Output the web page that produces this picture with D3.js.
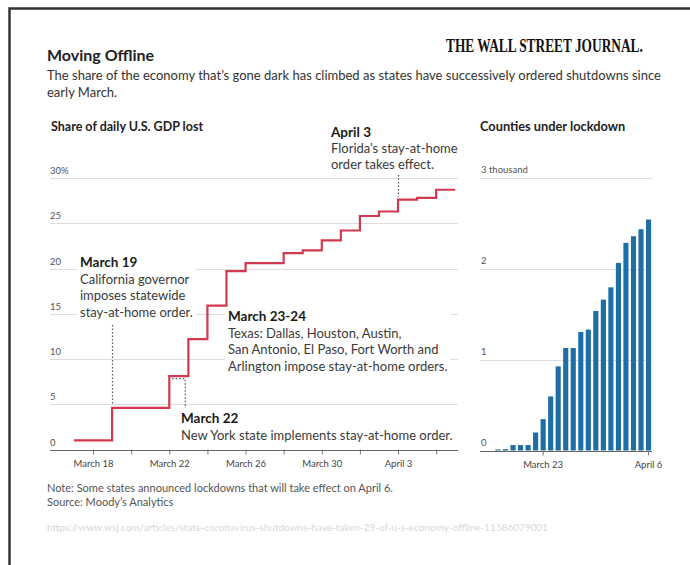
<!DOCTYPE html>
<html>
<head>
<meta charset="utf-8">
<script src="https://cdn.jsdelivr.net/npm/d3@7"></script>
<style>
  html, body { margin: 0; padding: 0; background: #fff; }
  svg { display: block; font-family: Lato, "Open Sans", sans-serif; }
</style>
</head>
<body>
<svg id="chart" width="690" height="565"></svg>
<script>
// Share of daily U.S. GDP lost (percent), one value per day
const gdpDates = ["2020-03-17","2020-03-18","2020-03-19","2020-03-20","2020-03-21","2020-03-22",
  "2020-03-23","2020-03-24","2020-03-25","2020-03-26","2020-03-27","2020-03-28","2020-03-29",
  "2020-03-30","2020-03-31","2020-04-01","2020-04-02","2020-04-03","2020-04-04","2020-04-05","2020-04-06"];
const gdpShare = [1.0,1.0,4.6,4.6,4.6,8.1,12.2,15.9,19.7,20.6,20.6,21.7,22.0,23.1,24.2,25.8,26.3,27.6,27.8,28.7,28.7];
const gdpTicks = [0,5,10,15,20,25,30];
const gdpTickLabels = ["0","5","10","15","20","25","30%"];
const gdpAxisDates = ["2020-03-18","2020-03-22","2020-03-26","2020-03-30","2020-04-03"];
const gdpAxisLabels = ["March 18","March 22","March 26","March 30","April 3"];

// Counties under lockdown, one bar per day
const countyDates = ["2020-03-17","2020-03-18","2020-03-19","2020-03-20","2020-03-21","2020-03-22",
  "2020-03-23","2020-03-24","2020-03-25","2020-03-26","2020-03-27","2020-03-28","2020-03-29",
  "2020-03-30","2020-03-31","2020-04-01","2020-04-02","2020-04-03","2020-04-04","2020-04-05","2020-04-06"];
const countyCounts = [12,15,60,60,60,198,345,595,926,1128,1128,1305,1331,1536,1661,1796,2065,2286,2359,2436,2543];
const countyTicks = [0,1000,2000,3000];
const countyTickLabels = ["0","1","2","3 thousand"];
const countyAxisDates = ["2020-03-23","2020-04-06"];
const countyAxisLabels = ["March 23","April 6"];

// Annotation texts
const noteMarch19 = ["March 19","California governor","imposes statewide","stay-at-home order."];
const noteMarch2324 = ["March 23-24","Texas: Dallas, Houston, Austin,","San Antonio, El Paso, Fort Worth and","Arlington impose stay-at-home orders."];
const noteMarch22 = ["March 22","New York state implements stay-at-home order."];
const noteApril3 = ["April 3","Florida\u2019s stay-at-home","order takes effect."];

const parse = d3.utcParse("%Y-%m-%d");
const fmtKey = d3.utcFormat("%Y-%m-%d");
const svg = d3.select("#chart");

// Frame
svg.append("path")
  .attr("d", "M9.5,565 V8.5 H690")
  .attr("fill", "none").attr("stroke", "#333").attr("stroke-width", 2.5);

// Header
svg.append("text").attr("x", 47).attr("y", 61)
  .attr("font-size", 16).attr("font-weight", 700).attr("fill", "#222")
  .text("Moving Offline");

// Masthead: a bold serif squeezed horizontally to a fixed width
const mast = svg.append("g");
const mastText = mast.append("text").attr("x", 0).attr("y", 0)
  .attr("font-family", "'Liberation Serif', serif").attr("font-size", 19).attr("font-weight", 700)
  .attr("fill", "#111").text("THE WALL STREET JOURNAL.");
const mastW = mastText.node().getComputedTextLength();
mast.attr("transform", `translate(446,52) scale(${197 / mastW},1)`);

svg.append("text").attr("x", 47).attr("y", 80)
  .attr("font-size", 13).attr("fill", "#333")
  .text("The share of the economy that\u2019s gone dark has climbed as states have successively ordered shutdowns since");
svg.append("text").attr("x", 47).attr("y", 97)
  .attr("font-size", 13).attr("fill", "#333")
  .text("early March.");

// ---------- Left panel: GDP lost ----------
svg.append("text").attr("x", 51).attr("y", 131)
  .attr("font-size", 12.5).attr("font-weight", 700).attr("fill", "#222")
  .text("Share of daily U.S. GDP lost");

const xG = d3.scaleUtc().domain([parse("2020-03-17"), parse("2020-04-06")]).range([74, 455.2]);
const yG = d3.scaleLinear().domain([0, 30]).range([449.5, 178]);
const gLeft = svg.append("g");

// gridlines
gLeft.selectAll("line.grid").data(gdpTicks.filter(d => d > 0)).join("line")
  .attr("class", "grid")
  .attr("x1", 50).attr("x2", 458)
  .attr("y1", d => Math.round(yG(d)) + 0.5).attr("y2", d => Math.round(yG(d)) + 0.5)
  .attr("stroke", "#dcdcdc");
gLeft.selectAll("text.ylab").data(gdpTicks).join("text")
  .attr("class", "ylab")
  .attr("x", 50).attr("y", d => yG(d) - 4)
  .attr("font-size", 9.5).attr("fill", "#555")
  .text((d, i) => gdpTickLabels[i]);

// x axis: a tick every two days, a label every four
const minorTicks = d3.range(0, 19, 2).map(i => d3.utcDay.offset(parse("2020-03-18"), i));
const labelByKey = new Map(gdpAxisDates.map((d, i) => [d, gdpAxisLabels[i]]));
const axG = gLeft.append("g").attr("transform", `translate(0,${Math.round(yG(0)) + 0.5})`)
  .call(d3.axisBottom(xG).tickValues(minorTicks).tickSize(4).tickPadding(6)
    .tickFormat(d => labelByKey.get(fmtKey(d)) || ""));
axG.select(".domain").remove();
axG.selectAll(".tick line").attr("stroke", "#777").attr("y1", -1);
axG.selectAll(".tick text").attr("font-size", 9.5).attr("fill", "#444").attr("font-family", "Lato, sans-serif");
axG.append("line").attr("x1", 50).attr("x2", 458).attr("stroke", "#666");

// step line
const gdpData = gdpDates.map((d, i) => ({ date: parse(d), value: gdpShare[i] }));
const stepLine = d3.line().curve(d3.curveStepAfter).x(d => xG(d.date)).y(d => yG(d.value));

// annotation helper: bold heading then body lines, on a white backing
function annotate(lines, x, y0, lh) {
  const g = svg.append("g");
  const t = g.append("text").attr("x", x).attr("y", y0).attr("font-size", 13).attr("fill", "#333");
  lines.forEach((s, i) => {
    t.append("tspan").attr("x", x).attr("y", y0 + i * lh)
      .attr("font-weight", i === 0 ? 700 : 400).attr("fill", i === 0 ? "#1a1a1a" : "#3a3a3a")
      .attr("font-size", i === 0 ? 13.5 : 13)
      .text(s);
  });
  const b = t.node().getBBox();
  g.insert("rect", "text").attr("x", b.x - 3).attr("y", b.y - 1)
    .attr("width", b.width + 6).attr("height", b.height + 2).attr("fill", "#fff");
  return g;
}

const dot = { fill: "none", stroke: "#555", "stroke-width": 1.2, "stroke-dasharray": "1.5,2" };
function dotted(d) {
  const p = svg.append("path").attr("d", d);
  Object.entries(dot).forEach(([k, v]) => p.attr(k, v));
}

annotate(noteMarch19, 80, 267, 16.5);
annotate(noteMarch2324, 228, 321, 16.5);
annotate(noteMarch22, 181, 423, 17);
annotate(noteApril3, 331, 137, 16);

// leader lines
const v19 = gdpShare[gdpDates.indexOf("2020-03-19")];
const v22 = gdpShare[gdpDates.indexOf("2020-03-22")];
const v03 = gdpShare[gdpDates.indexOf("2020-04-03")];
const x19 = Math.round(xG(parse("2020-03-19"))) + 0.5;
dotted(`M${x19},325 V${yG(v19) - 4}`);
const x22 = xG(parse("2020-03-22"));
dotted(`M${x22 + 3},${yG(v22) + 2.5} H${x22 + 16} V408`);
const x03 = Math.round(xG(parse("2020-04-03"))) + 0.5;
dotted(`M${x03},175 V${yG(v03) - 3}`);

svg.append("path").datum(gdpData)
  .attr("d", stepLine)
  .attr("fill", "none").attr("stroke", "#d2394f").attr("stroke-width", 2.2)
  .attr("stroke-linejoin", "miter");

// ---------- Right panel: counties ----------
svg.append("text").attr("x", 480).attr("y", 131)
  .attr("font-size", 12.8).attr("font-weight", 700).attr("fill", "#222")
  .text("Counties under lockdown");

const xC = d3.scaleBand().domain(countyDates).range([494.2, 652.3]).paddingInner(0.32).paddingOuter(0.16);
const yC = d3.scaleLinear().domain([0, 3000]).range([450.5, 178]);
const gRight = svg.append("g");

gRight.selectAll("line.grid").data(countyTicks.filter(d => d > 0)).join("line")
  .attr("class", "grid")
  .attr("x1", 480).attr("x2", 652)
  .attr("y1", d => Math.round(yC(d)) + 0.5).attr("y2", d => Math.round(yC(d)) + 0.5)
  .attr("stroke", "#dcdcdc");
gRight.selectAll("text.ylab").data(countyTicks).join("text")
  .attr("class", "ylab")
  .attr("x", 481).attr("y", d => yC(d) - 5)
  .attr("font-size", 9.5).attr("fill", "#555")
  .text((d, i) => countyTickLabels[i]);

gRight.selectAll("rect.bar").data(countyDates).join("rect")
  .attr("class", "bar")
  .attr("x", d => xC(d)).attr("width", xC.bandwidth())
  .attr("y", (d, i) => yC(countyCounts[i]))
  .attr("height", (d, i) => yC(0) - yC(countyCounts[i]))
  .attr("fill", "#1c6ea4");

const axC = gRight.append("g").attr("transform", `translate(0,${Math.round(yC(0)) + 0.5})`)
  .call(d3.axisBottom(xC).tickValues(countyAxisDates).tickSize(4).tickPadding(6)
    .tickFormat((d, i) => countyAxisLabels[i]));
axC.select(".domain").remove();
axC.selectAll(".tick line").attr("stroke", "#777");
axC.selectAll(".tick text").attr("font-size", 9.5).attr("fill", "#444").attr("font-family", "Lato, sans-serif");
axC.append("line").attr("x1", 480).attr("x2", 652).attr("stroke", "#666");

// ---------- Footer ----------
svg.append("text").attr("x", 47).attr("y", 492)
  .attr("font-size", 11).attr("fill", "#555")
  .text("Note: Some states announced lockdowns that will take effect on April 6.");
svg.append("text").attr("x", 47).attr("y", 506)
  .attr("font-size", 11).attr("fill", "#555")
  .text("Source: Moody\u2019s Analytics");
svg.append("text").attr("x", 47).attr("y", 531)
  .attr("font-size", 10).attr("fill", "#d8d8d8")
  .text("https://www.wsj.com/articles/state-coronavirus-shutdowns-have-taken-29-of-u-s-economy-offline-11586079001");
</script>
</body>
</html>
